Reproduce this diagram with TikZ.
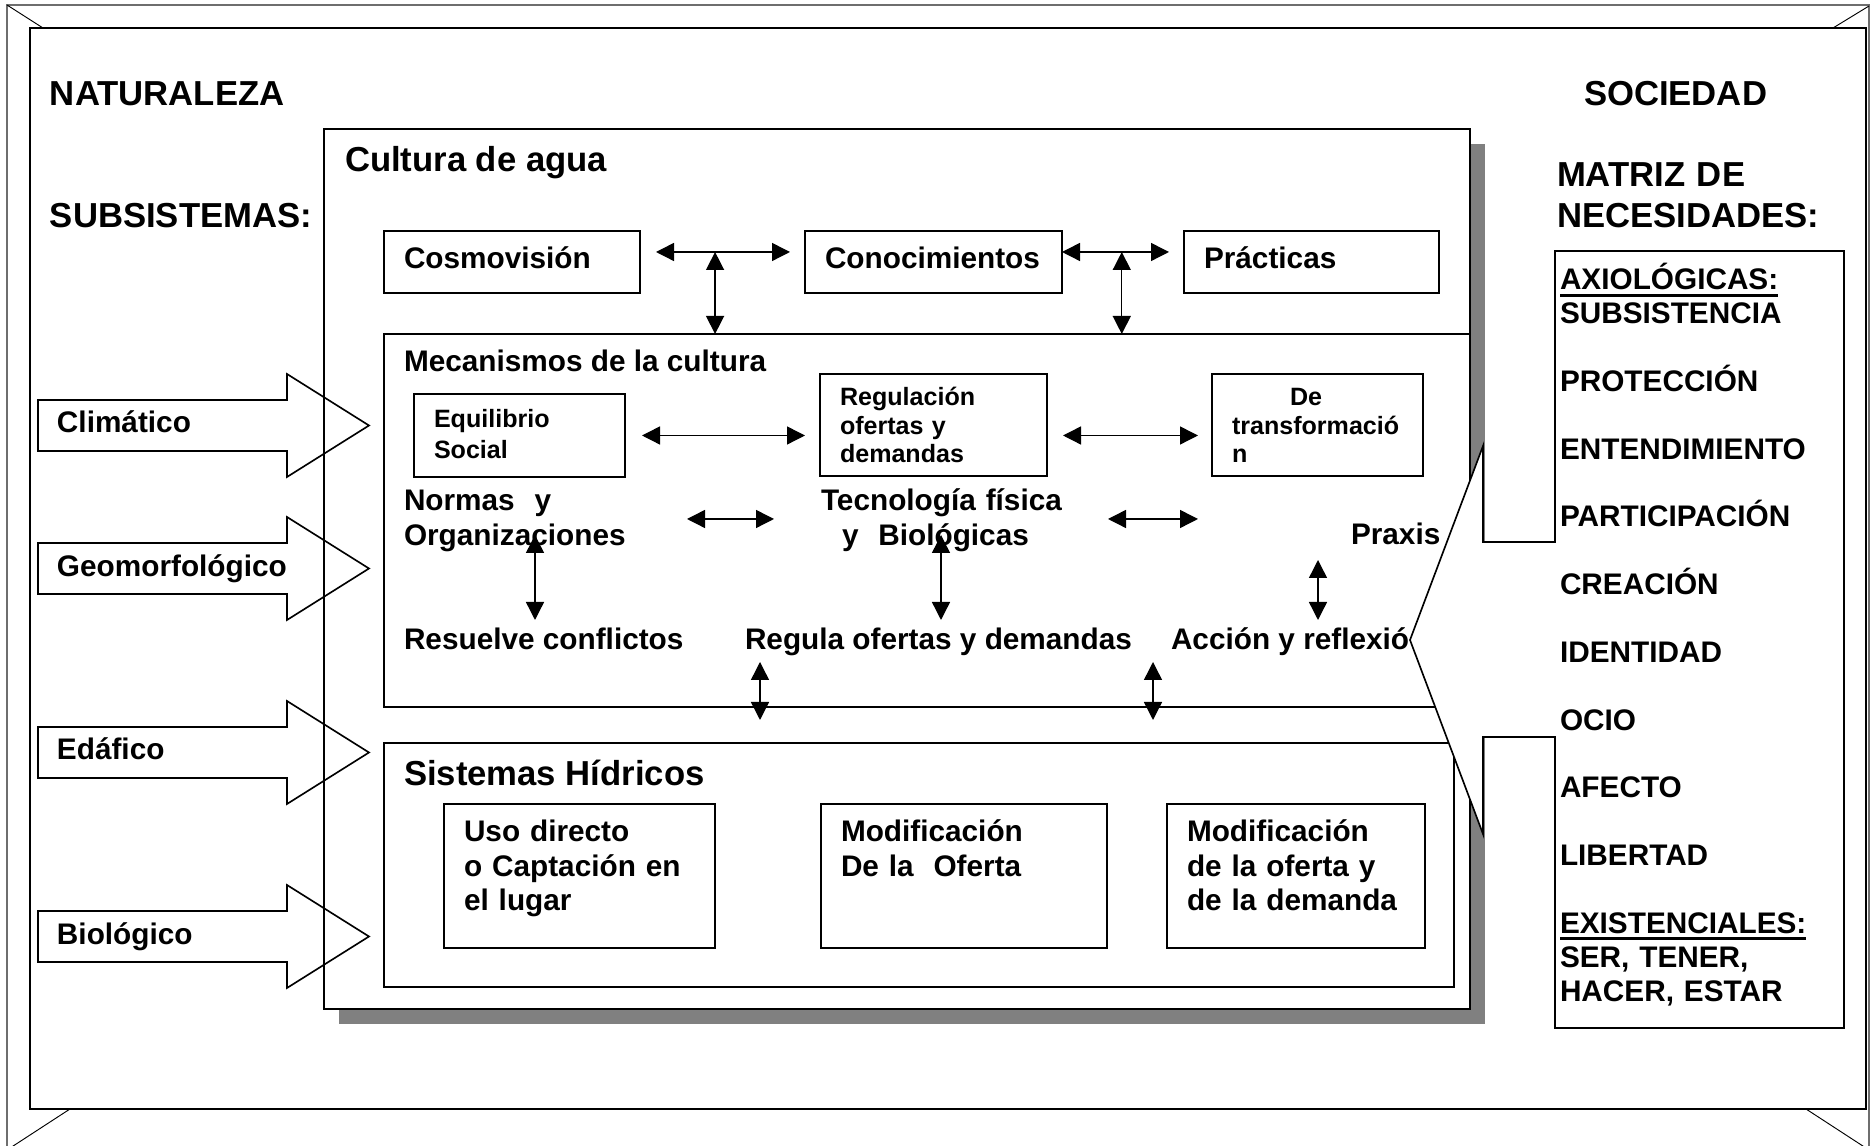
\documentclass[tikz,border=0pt]{standalone}
\usepackage{fontspec}
\setmainfont{Liberation Sans}
\usepackage{tikz}
\definecolor{clrShadow}{RGB}{128,128,128}
\definecolor{clrFrame} {RGB}{110,110,110}
\usetikzlibrary{arrows.meta,shadows}
\newlength{\pxunit}
\setlength{\pxunit}{0.15mm}
% heavier underline for the group headings of the needs list
\newcommand{\needul}[1]{\leavevmode\vtop{\hbox{#1}\kern1.6pt\hrule height 1.3pt}}

\begin{document}
\begin{tikzpicture}[
  x = 0.15mm, y = -0.15mm,                   % one unit = one pixel, y grows downwards
  every node/.style = {font=\bfseries},
  %--- text styles ---------------------------------------------------
  bigst/.style    = {font=\fontsize{14.8}{17.5}\selectfont\bfseries},
  medst/.style    = {font=\fontsize{12.7}{14.6}\selectfont\bfseries},
  smallst/.style  = {font=\fontsize{10.7}{12}\selectfont\bfseries},
  lbl/.style      = {inner sep=0pt, outer sep=0pt, anchor=base west},
  %--- box styles ----------------------------------------------------
  cultst/.style   = {draw, line width=0.6pt, fill=white, anchor=north west,
                     inner sep=0pt, outer sep=0pt,
                     drop shadow={shadow xshift=15\pxunit, shadow yshift=-15\pxunit,
                                  fill=clrShadow, opacity=1}},
  panelst/.style  = {draw, line width=0.8pt, anchor=north west,
                     inner sep=0pt, outer sep=0pt},
  boxst/.style n args = {3}{draw, line width=0.6pt, fill=white,
                     anchor=north west, align=left, outer sep=0pt,
                     inner xsep=20\pxunit, inner ysep=0pt,
                     text width=#1\pxunit, text height=#2\pxunit,
                     text depth=#3\pxunit},
  %--- lines ---------------------------------------------------------
  framest/.style  = {draw=clrFrame, line width=0.5pt},
  innerst/.style  = {draw=black, line width=1.2pt},
  cornerst/.style = {draw=black, line width=0.4pt},
  arr/.style      = {{Triangle[length=0.27cm, width=0.27cm]}-{Triangle[length=0.27cm, width=0.27cm]},
                     line width=0.6pt},
  blockarr/.style = {draw, line width=0.7pt},
  calloutst/.style= {draw, line width=0.7pt, fill=white},
]
\useasboundingbox (0,0) rectangle (1876,1146);

% ---- Frame --------------------------------------------------------
\draw[framest] (7,5) rectangle (1869,1150);
\draw[innerst] (30,28) rectangle (1866,1109);
\draw[cornerst] (7,5) -- (43,28);
\draw[cornerst] (1869,6) -- (1833,28);
\draw[cornerst] (7,1150) -- (70,1109);
\draw[cornerst] (1869,1150) -- (1806,1109);

% ---- Headings -----------------------------------------------------
\node[bigst, lbl] (naturaleza) at (50,106) {NATURALEZA};
\node[bigst, lbl] (subsist) at (50,228) {SUBSISTEMAS:};
\node[bigst, lbl] (sociedad) at (1584,106) {SOCIEDAD};
\node[bigst, lbl, text width=300\pxunit, align=left] (matriz) at (1557,187)
    {MATRIZ DE\\NECESIDADES:};

% ---- Cultura de agua ----------------------------------------------
\node[cultst, minimum width=1146\pxunit, minimum height=880\pxunit] (cultura) at (324,129) {};
\node[bigst, lbl] (cultitle) at (345,172) {Cultura de agua};

\node[boxst={216}{38}{24}, medst] (cosmo) at (384,231) {Cosmovisión};
\node[boxst={217}{38}{24}, medst] (conoc) at (805,231) {Conocimientos};
\node[boxst={215}{38}{24}, medst] (prac)  at (1184,231) {Prácticas};

% ---- Mecanismos de la cultura -------------------------------------
\node[panelst, minimum width=1086\pxunit, minimum height=373\pxunit] (mecan) at (384,334) {};
\node[medst, lbl] (mectitle) at (404,372) {Mecanismos de la cultura};

\node[boxst={171}{34}{49}, smallst, font=\fontsize{10.7}{13.2}\selectfont\bfseries] (equil)
    at (414,394) {Equilibrio\\Social};
\node[boxst={187}{32}{70}, smallst] (regul) at (820,374)
    {Regulación\\ofertas y\\demandas};
\node[boxst={171}{32}{70}, smallst] (transf) at (1212,374)
    {\hspace*{58\pxunit}De\\transformació\\n};

\node[medst, lbl, text width=260\pxunit, align=left] (normas) at (404,511)
    {Normas\ \ y\\Organizaciones};
\node[medst, lbl, text width=260\pxunit, align=left] (tecno) at (821,511)
    {Tecnología física\\\hspace*{21\pxunit}y\ \ Biológicas};
\node[medst, lbl] (praxis)   at (1351,545) {Praxis};
\node[medst, lbl] (resuelve) at (404,650)  {Resuelve conflictos};
\node[medst, lbl] (regula)   at (745,650)  {Regula ofertas y demandas};
\node[medst, lbl] (accion)   at (1171,650) {Acción y reflexió};

% ---- Sistemas Hidricos --------------------------------------------
\node[panelst, minimum width=1070\pxunit, minimum height=244\pxunit] (sist) at (384,743) {};
\node[bigst, lbl] (sisttitle) at (404,786) {Sistemas Hídricos};

\node[boxst={231}{38}{106}, medst] (uso) at (444,804)
    {Uso directo\\o Captación en\\el lugar};
\node[boxst={246}{38}{106}, medst] (modof) at (821,804)
    {Modificación\\De la\ \ Oferta};
\node[boxst={218}{38}{106}, medst] (moddem) at (1167,804)
    {Modificación\\de la oferta y\\de la demanda};

% ---- Arrows -------------------------------------------------------
\draw[arr, shorten <=16\pxunit, shorten >=15\pxunit]
    ([yshift=10\pxunit]cosmo.east) -- ([yshift=10\pxunit]conoc.west) coordinate[pos=0.455] (jcosmo);
\draw[arr, shorten >=15\pxunit]
    ([yshift=10\pxunit]conoc.east) -- ([yshift=10\pxunit]prac.west) coordinate[pos=0.49] (jconoc);
\draw[arr] (jcosmo) -- (jcosmo |- mecan.north);
\draw[arr] (jconoc) -- (jconoc |- mecan.north);

\draw[arr, shorten <=17\pxunit, shorten >=15\pxunit] (equil.east) -- (equil.east -| regul.west);
\draw[arr, shorten <=16\pxunit, shorten >=14\pxunit] (equil.east -| regul.east) -- (equil.east -| transf.west);
\draw[arr] ([xshift=283\pxunit, yshift=-8\pxunit]normas.base west) -- ([xshift=-47\pxunit, yshift=-8\pxunit]tecno.base west);
\draw[arr] ([xshift=287\pxunit, yshift=-8\pxunit]tecno.base west) -- ([xshift=-153\pxunit, yshift=26\pxunit]praxis.base west);

\draw[arr] ([xshift=131\pxunit, yshift=-24\pxunit]normas.base west) -- ([xshift=131\pxunit, yshift=30\pxunit]resuelve.base west);
\draw[arr] ([xshift=120\pxunit, yshift=-24\pxunit]tecno.base west) -- ([xshift=196\pxunit, yshift=30\pxunit]regula.base west);
\draw[arr] ([xshift=-33\pxunit, yshift=-15\pxunit]praxis.base west) -- ([xshift=147\pxunit, yshift=30\pxunit]accion.base west);

\draw[arr] ([xshift=376\pxunit, yshift=45\pxunit]mecan.south west) -- ([xshift=376\pxunit, yshift=23\pxunit]sist.north west);
\draw[arr] ([xshift=769\pxunit, yshift=45\pxunit]mecan.south west) -- ([xshift=769\pxunit, yshift=23\pxunit]sist.north west);

% ---- Subsystem block arrows ---------------------------------------
\draw[blockarr] (38,400) -- ++(249,0) -- ++(0,-26) -- ++(82,51.5) -- ++(-82,51.5) -- ++(0,-26) -- ++(-249,0) -- cycle;
\draw[blockarr] (38,543) -- ++(249,0) -- ++(0,-26) -- ++(82,51.5) -- ++(-82,51.5) -- ++(0,-26) -- ++(-249,0) -- cycle;
\draw[blockarr] (38,727) -- ++(249,0) -- ++(0,-26) -- ++(82,51.5) -- ++(-82,51.5) -- ++(0,-26) -- ++(-249,0) -- cycle;
\draw[blockarr] (38,911) -- ++(249,0) -- ++(0,-26) -- ++(82,51.5) -- ++(-82,51.5) -- ++(0,-26) -- ++(-249,0) -- cycle;

\node[medst, lbl] (clima)   at (57,433) {Climático};
\node[medst, lbl] (geomorf) at (57,577) {Geomorfológico};
\node[medst, lbl] (edafico) at (57,760) {Edáfico};
\node[medst, lbl] (biolog)  at (57,945) {Biológico};

% ---- Matriz de necesidades (callout) ------------------------------
\draw[calloutst] (1844,251) -- (1555,251) -- (1555,542) -- (1483,542) -- (1483,446)
    -- (1410,640) -- (1483,834) -- (1483,737) -- (1555,737) -- (1555,1028)
    -- (1844,1028) -- cycle;

\node[lbl, text width=280\pxunit, align=left,
      font=\fontsize{12.7}{14.45}\selectfont\bfseries] (needs) at (1560,290)
    {\needul{AXIOLÓGICAS:}\\
     SUBSISTENCIA\\[\baselineskip]
     PROTECCIÓN\\[\baselineskip]
     ENTENDIMIENTO\\[\baselineskip]
     PARTICIPACIÓN\\[\baselineskip]
     CREACIÓN\\[\baselineskip]
     IDENTIDAD\\[\baselineskip]
     OCIO\\[\baselineskip]
     AFECTO\\[\baselineskip]
     LIBERTAD\\[\baselineskip]
     \needul{EXISTENCIALES:}\\
     SER, TENER,\\
     HACER, ESTAR};

\end{tikzpicture}
\end{document}
